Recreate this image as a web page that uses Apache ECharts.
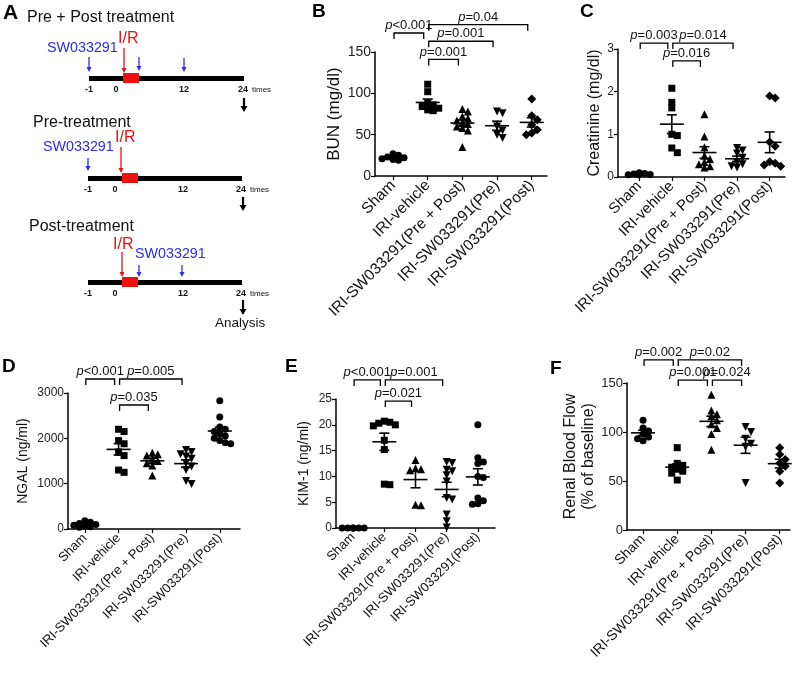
<!DOCTYPE html>
<html><head><meta charset="utf-8">
<script src="https://cdn.jsdelivr.net/npm/echarts@6/dist/echarts.min.js"></script>
<style>html,body{margin:0;padding:0;background:#fff}#c{width:800px;height:679px}</style>
</head><body><div id="c"></div>
<script>
// ---------------- DATA ----------------
const groups = ['Sham', 'IRI-vehicle', 'IRI-SW033291(Pre + Post)', 'IRI-SW033291(Pre)', 'IRI-SW033291(Post)'];

// B: BUN (mg/dl)
const bun = [
  [27, 25, 23, 22, 21, 20, 19],
  [111, 102, 88, 86, 84, 82, 80, 79],
  [81, 78, 72, 70, 67, 65, 63, 60, 58, 55, 35],
  [78, 76, 60, 55, 50, 46],
  [93, 73, 68, 62, 56, 52, 50]
];
const bunTicks = [0, 50, 100, 150];
const bunP = [[0, 1, '<0.001', 173], [1, 4, '=0.04', 183], [1, 3, '=0.001', 163], [1, 2, '=0.001', 141]];

// C: Creatinine (mg/dl)
const creat = [
  [0.1, 0.08, 0.07, 0.06, 0.05, 0.05],
  [2.08, 1.75, 1.62, 1.0, 0.97, 0.68, 0.57],
  [1.47, 0.95, 0.7, 0.5, 0.42, 0.35, 0.3, 0.25, 0.22],
  [0.68, 0.62, 0.55, 0.45, 0.35, 0.3, 0.25, 0.22],
  [1.9, 1.85, 0.82, 0.72, 0.36, 0.32, 0.28, 0.25]
];
const creatTicks = [0, 1, 2, 3];
const creatP = [[0, 1, '=0.003', 3.14], [1, 3, '=0.014', 3.14], [1, 2, '=0.016', 2.72]];

// D: NGAL (ng/ml)
const ngal = [
  [180, 150, 120, 100, 80, 60, 50, 40],
  [2200, 2150, 1950, 1880, 1700, 1620, 1300, 1250],
  [1680, 1650, 1620, 1550, 1500, 1450, 1400, 1180],
  [1740, 1700, 1650, 1600, 1550, 1450, 1380, 1300, 1060, 990],
  [2830, 2470, 2250, 2200, 2150, 2100, 2050, 2000, 1950, 1900, 1880]
];
const ngalTicks = [0, 1000, 2000, 3000];
const ngalP = [[0, 1, '<0.001', 3309], [1, 3, '=0.005', 3309], [1, 2, '=0.035', 2735]];

// E: KIM-1 (ng/ml)
const kim = [
  [0, 0, 0, 0, 0, 0],
  [20.7, 20.5, 20.3, 20.0, 19.8, 17.0, 15.2, 8.5, 8.4],
  [13.2, 11.6, 11.4, 11.2, 4.5, 4.4],
  [12.8, 12.6, 11.3, 11.0, 10.2, 9.0, 5.8, 5.5, 2.6, 1.3, 0.1],
  [20.0, 13.6, 12.8, 12.5, 10.0, 9.8, 5.8, 5.3, 4.7, 4.6]
];
const kimTicks = [0, 5, 10, 15, 20, 25];
const kimP = [[0, 1, '<0.001', 28.7], [1, 3, '=0.001', 28.7], [1, 2, '=0.021', 24.6]];

// F: Renal Blood Flow (% of baseline)
const rbf = [
  [112, 104, 101, 98, 95, 93, 91],
  [84, 68, 66, 64, 62, 60, 58, 51],
  [138, 122, 118, 116, 112, 108, 104, 98, 82],
  [105, 100, 93, 88, 85, 48],
  [84, 77, 72, 68, 65, 60, 48]
];
const rbfTicks = [0, 50, 100, 150];
const rbfP = [[0, 1, '=0.002', 173.5], [1, 3, '=0.02', 173.5], [1, 2, '=0.001', 153], [2, 3, '=0.024', 153]];

// ---------------- LAYOUT / STYLE ----------------
const FONT = '"Liberation Sans", Arial, Helvetica, sans-serif';
const symSet1 = ['circle', 'rect', 'triangle', 'triangleDown', 'diamond'];
const symSet2 = ['circle', 'rect', 'triangle', 'triangleDown', 'circle'];

const panels = [
  { data: bun, ticks: bunTicks, brackets: bunP, name: 'BUN (mg/dl)', grid: { left: 375, top: 52, width: 172, height: 124 }, xr: [-0.52, 4.44], syms: symSet1, nameGap: 30, nameSize: 17, tickSize: 14, labelSize: 15.5, pSize: 13 },
  { data: creat, ticks: creatTicks, brackets: creatP, name: 'Creatinine (mg/dl)', grid: { left: 618, top: 49, width: 167, height: 128 }, xr: [-0.65, 4.47], syms: symSet1, nameGap: 6, nameSize: 16, tickSize: 12, labelSize: 15, pSize: 13 },
  { data: ngal, ticks: ngalTicks, brackets: ngalP, name: 'NGAL (ng/ml)', grid: { left: 68, top: 393, width: 172, height: 136 }, xr: [-0.5, 4.6], syms: symSet2, nameGap: 36, nameSize: 14, tickSize: 12, labelSize: 13, pSize: 13 },
  { data: kim, ticks: kimTicks, brackets: kimP, name: 'KIM-1 (ng/ml)', grid: { left: 336, top: 399, width: 159, height: 129 }, xr: [-0.55, 4.55], syms: symSet2, nameGap: 23, nameSize: 14, tickSize: 12, labelSize: 13, pSize: 13 },
  { data: rbf, ticks: rbfTicks, brackets: rbfP, name: 'Renal Blood Flow\n(% of baseline)', grid: { left: 627, top: 383, width: 163, height: 147 }, xr: [-0.47, 4.3], syms: symSet1, nameGap: 28, nameSize: 16, tickSize: 13, labelSize: 14, pSize: 13 }
];

function meanSem(a) {
  const n = a.length, m = a.reduce((s, v) => s + v, 0) / n;
  const sd = n > 1 ? Math.sqrt(a.reduce((s, v) => s + (v - m) * (v - m), 0) / (n - 1)) : 0;
  return [m, sd / Math.sqrt(n)];
}

function swarm(vals, pxPerUnit, d, maxK) {
  const placed = [], res = new Array(vals.length);
  const order = vals.map((v, i) => i).sort((a, b) => vals[b] - vals[a]);
  for (const i of order) {
    const y = vals[i] * pxPerUnit;
    const cands = [0];
    for (let k = 1; k <= maxK; k++) cands.push(k * d, -k * d);
    let best = 0, bestScore = -1;
    for (const c of cands) {
      let minD = Infinity;
      for (const p of placed) { const dd = Math.hypot(p[0] - c, p[1] - y); if (dd < minD) minD = dd; }
      if (minD >= d) { best = c; bestScore = Infinity; break; }
      if (minD > bestScore) { bestScore = minD; best = c; }
    }
    placed.push([best, y]);
    res[i] = best;
  }
  return res;
}

const grids = [], xAxes = [], yAxes = [], series = [];
panels.forEach((P, pi) => {
  grids.push(Object.assign({ containLabel: false }, P.grid));
  const tmin = P.ticks[0], tmax = P.ticks[P.ticks.length - 1];
  const pxPerUnit = P.grid.height / (tmax - tmin);
  xAxes.push({
    type: 'value', gridIndex: pi, min: P.xr[0], max: P.xr[1],
    splitLine: { show: false },
    axisLine: { onZero: false, lineStyle: { color: '#000', width: 1.5 } },
    axisTick: { customValues: [0, 1, 2, 3, 4], length: 4, lineStyle: { color: '#000', width: 1.2 } },
    axisLabel: { customValues: [0, 1, 2, 3, 4], formatter: v => groups[Math.round(v)], rotate: 45, margin: 7, fontSize: P.labelSize, color: '#111', fontFamily: FONT }
  });
  yAxes.push({
    type: 'value', gridIndex: pi, min: tmin, max: tmax, interval: P.ticks[1] - P.ticks[0],
    splitLine: { show: false },
    axisLine: { show: true, onZero: false, lineStyle: { color: '#000', width: 1.5 } },
    axisTick: { show: true, length: 4, lineStyle: { color: '#000', width: 1.2 } },
    axisLabel: { fontSize: P.tickSize, color: '#222', margin: 4, fontFamily: FONT, formatter: v => String(v) },
    name: P.name, nameLocation: 'middle', nameGap: P.nameGap, nameRotate: 90,
    nameTextStyle: { fontSize: P.nameSize, color: '#111', fontFamily: FONT, lineHeight: 18 }
  });
  // points
  P.data.forEach((vals, gi) => {
    const sym = P.syms[gi];
    const size = sym === 'triangle' || sym === 'triangleDown' ? 8 : (sym === 'diamond' ? 9 : 7);
    const offs = swarm(vals, pxPerUnit, 5.5, 2);
    series.push({
      type: 'scatter', xAxisIndex: pi, yAxisIndex: pi,
      symbol: sym === 'triangleDown' ? 'triangle' : sym,
      symbolRotate: sym === 'triangleDown' ? 180 : 0,
      symbolSize: size, itemStyle: { color: '#000', opacity: 1 },
      silent: true, animation: false, clip: false,
      data: vals.map((v, k) => ({ value: [gi, v], symbolOffset: [offs[k], 0] }))
    });
  });
  // mean ± SEM
  const stats = P.data.map((vals, gi) => { const ms = meanSem(vals); return [gi, ms[0], ms[1]]; });
  series.push({
    type: 'custom', xAxisIndex: pi, yAxisIndex: pi, animation: false, silent: true, clip: false, z: 5,
    data: stats,
    renderItem(params, api) {
      const x = api.value(0), m = api.value(1), s = api.value(2);
      const pm = api.coord([x, m]), pu = api.coord([x, m + s]), pl = api.coord([x, m - s]);
      const st = { stroke: '#000', lineWidth: 1.6 };
      const ch = [{ type: 'line', shape: { x1: pm[0] - 12, y1: pm[1], x2: pm[0] + 12, y2: pm[1] }, style: st }];
      if (s > 0) {
        ch.push({ type: 'line', shape: { x1: pu[0], y1: pu[1], x2: pl[0], y2: pl[1] }, style: st });
        ch.push({ type: 'line', shape: { x1: pu[0] - 5, y1: pu[1], x2: pu[0] + 5, y2: pu[1] }, style: st });
        ch.push({ type: 'line', shape: { x1: pl[0] - 5, y1: pl[1], x2: pl[0] + 5, y2: pl[1] }, style: st });
      }
      return { type: 'group', children: ch };
    }
  });
  // p-value brackets
  series.push({
    type: 'custom', xAxisIndex: pi, yAxisIndex: pi, animation: false, silent: true, clip: false, z: 6,
    data: P.brackets.map(b => [b[0], b[1], b[3]]),
    renderItem(params, api) {
      const b = P.brackets[params.dataIndex];
      const a = api.coord([api.value(0), api.value(2)]);
      const c = api.coord([api.value(1), api.value(2)]);
      const x1 = a[0] + 1, x2 = c[0] - 4, y = a[1];
      return {
        type: 'group', children: [
          { type: 'polyline', shape: { points: [[x1, y + 6], [x1, y], [x2, y], [x2, y + 6]] }, style: { stroke: '#000', lineWidth: 1.3, fill: null } },
          { type: 'text', style: { x: (x1 + x2) / 2, y: y - 1, text: '{i|p}' + b[2], align: 'center', verticalAlign: 'bottom', fill: '#111', font: P.pSize + 'px ' + FONT, rich: { i: { fontStyle: 'italic', fontSize: P.pSize, fontFamily: FONT } } } }
        ]
      };
    }
  });
});

// ---------------- PANEL A (schematic) + letters ----------------
const BLUE = '#2b2bf0', RED = '#f01010';
const gfx = [];
function txt(x, y, s, size, color, opts) {
  gfx.push({ type: 'text', x: x, y: y, style: Object.assign({ text: s, fill: color || '#111', font: (opts && opts.bold ? 'bold ' : '') + size + 'px ' + FONT, align: (opts && opts.align) || 'left', verticalAlign: 'middle' }) });
}
function arrow(x, y1, y2, color, w, hw, hl) {
  gfx.push({ type: 'line', shape: { x1: x, y1: y1, x2: x, y2: y2 - hl + 1 }, style: { stroke: color, lineWidth: w } });
  gfx.push({ type: 'polygon', shape: { points: [[x - hw, y2 - hl], [x + hw, y2 - hl], [x, y2]] }, style: { fill: color } });
}
function timeline(yTop, xs) {
  gfx.push({ type: 'rect', shape: { x: xs[0], y: yTop, width: xs[3] - xs[0] + 1, height: 5 }, style: { fill: '#000' } });
  gfx.push({ type: 'rect', shape: { x: xs[1] + 7, y: yTop - 3, width: 16, height: 10 }, style: { fill: RED } });
  const labs = ['-1', '0', '12', '24'];
  labs.forEach((l, i) => txt(xs[i], yTop + 14, l, 9, '#111', { bold: true, align: 'center' }));
  txt(xs[3] + 9, yTop + 14, 'times', 8, '#111');
}
txt(3, 13, 'A', 21, '#000', { bold: true });
txt(27, 18, 'Pre + Post treatment', 16, '#111');
timeline(76, [89, 116, 184, 243]);
arrow(89, 57, 72, BLUE, 1.3, 2.5, 5);
arrow(139, 57, 71, BLUE, 1.3, 2.5, 5);
arrow(184, 58, 72, BLUE, 1.3, 2.5, 5);
arrow(124, 48, 73, RED, 1.3, 2.5, 5);
txt(47, 48, 'SW033291', 14.3, BLUE);
txt(118, 39, 'I/R', 16, RED);
arrow(244, 98, 112, '#000', 2.2, 3.5, 6);

txt(33, 123, 'Pre-treatment', 16, '#111');
timeline(176, [88, 115, 183, 241]);
arrow(88, 158, 171, BLUE, 1.3, 2.5, 5);
arrow(121, 147, 173, RED, 1.3, 2.5, 5);
txt(43, 147, 'SW033291', 14.3, BLUE);
txt(115, 138, 'I/R', 16, RED);
arrow(243, 197, 211, '#000', 2.2, 3.5, 6);

txt(29, 227, 'Post-treatment', 16, '#111');
timeline(280, [88, 115, 183, 241]);
arrow(122, 252, 277, RED, 1.3, 2.5, 5);
arrow(139, 265, 277, BLUE, 1.3, 2.5, 5);
arrow(182, 265, 277, BLUE, 1.3, 2.5, 5);
txt(113, 245, 'I/R', 16, RED);
txt(135, 254, 'SW033291', 14.3, BLUE);
arrow(243, 300, 315, '#000', 2.2, 3.5, 6);
txt(215, 323, 'Analysis', 13.5, '#111');

txt(312, 12, 'B', 19, '#000', { bold: true });
txt(580, 12, 'C', 19, '#000', { bold: true });
txt(2, 367, 'D', 19, '#000', { bold: true });
txt(285, 367, 'E', 19, '#000', { bold: true });
txt(550, 369, 'F', 19, '#000', { bold: true });

const chart = echarts.init(document.getElementById('c'), null, { renderer: 'canvas' });
chart.setOption({
  animation: false,
  backgroundColor: '#fff',
  textStyle: { fontFamily: FONT },
  grid: grids, xAxis: xAxes, yAxis: yAxes, series: series,
  graphic: gfx
});
</script></body></html>
